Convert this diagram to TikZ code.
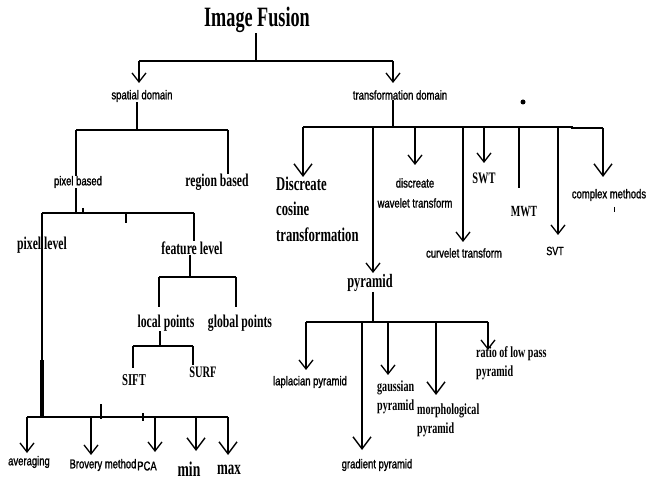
\documentclass[tikz,border=0pt]{standalone}
\usepackage{fontspec}
\setmainfont{Liberation Serif}
\newfontfamily\serc{Liberation Serif}[FakeStretch=0.65]
\newfontfamily\sanc{Liberation Sans}[FakeStretch=0.74,FakeBold=1.3]
\usetikzlibrary{arrows.meta}
\tikzset{
  ln/.style={line width=1.5pt},
  busln/.style={line width=2pt},
  arr/.style={line width=1.4pt,-{Straight Barb[length=9pt,width=14pt,line width=1.3pt]}},
  arrL/.style={line width=1.4pt,-{Straight Barb[length=12pt,width=18pt,line width=1.4pt]}},
  st/.style={inner sep=0pt,font=\sanc\fontsize{12.8}{14}\selectfont},
  sr/.style={inner sep=0pt,font=\serc\bfseries\fontsize{18}{20}\selectfont},
  srs/.style={inner sep=0pt,font=\serc\bfseries\fontsize{15.5}{19}\selectfont},
}
\begin{document}
\begin{tikzpicture}[x=1pt,y=-1pt]
\useasboundingbox[fill=white] (0,0) rectangle (646,481);
% ---- text nodes
\node[inner sep=0pt,font=\serc\bfseries\fontsize{28}{30}\selectfont] (title) at (257,20) {Image Fusion};
\node[st] (sd) at (142,96) {spatial domain};
\node[st] (td) at (400,95) {transformation domain};
\node[st] (pb) at (78,182) {pixel based};
\node[sr] (rb) at (217,182) {region based};
\node[sr] (pl) at (42,245) {pixel level};
\node[sr] (fl) at (192,248) {feature level};
\node[sr] (lp) at (166,323) {local points};
\node[sr] (gp) at (240,323) {global points};
\node[inner sep=0pt,font=\serc\bfseries\fontsize{16.5}{18}\selectfont] (sift) at (134,380) {SIFT};
\node[inner sep=0pt,font=\serc\bfseries\fontsize{16}{18}\selectfont] (surf) at (203,372) {SURF};
\node[st] (avg) at (29,462) {averaging};
\node[st] (bro) at (103,465) {Brovery method};
\node[st] (pca) at (147,466) {PCA};
\node[inner sep=0pt,font=\serc\bfseries\fontsize{21}{22}\selectfont] (min) at (189,469) {min};
\node[inner sep=0pt,font=\serc\bfseries\fontsize{20}{22}\selectfont] (max) at (229,470) {max};
\node[inner sep=0pt,anchor=west,align=left,font=\serc\bfseries\fontsize{19.5}{25.5}\selectfont] (dct) at (276,209) {Discreate\\cosine\\transformation};
\node[st,align=center,font=\sanc\fontsize{12.8}{20}\selectfont] (dwt) at (415,193) {discreate\\wavelet transform};
\node[st] (cvt) at (464,253) {curvelet transform};
\node[inner sep=0pt,font=\serc\bfseries\fontsize{16}{18}\selectfont] (swt) at (484,178) {SWT};
\node[inner sep=0pt,font=\serc\bfseries\fontsize{15.5}{18}\selectfont] (mwt) at (524,212) {MWT};
\node[st,font=\sanc\fontsize{12}{14}\selectfont] (svt) at (555,251) {SVT};
\node[st] (cm) at (609,195) {complex methods};
\node[inner sep=0pt,font=\serc\bfseries\fontsize{19}{20}\selectfont] (pyr) at (370,283) {pyramid};
\node[st] (lap) at (310,382) {laplacian pyramid};
\node[st] (grad) at (377,465) {gradient pyramid};
\node[srs,anchor=west,align=left] (gau) at (377,397) {gaussian\\pyramid};
\node[srs,anchor=west,align=left] (mor) at (417,420) {morphological\\pyramid};
\node[srs,anchor=west,align=left] (rat) at (476,363) {ratio of low pass\\pyramid};
% ---- coordinates
\coordinate (tb) at (256,61);
\coordinate (sbus) at (137,130);
\coordinate (pbus) at (76,213);
\coordinate (bbus) at (42,417);
\coordinate (fbus) at (190,277);
\coordinate (lbus) at (160,346);
\coordinate (tbus) at (393,127);
\coordinate (ybus) at (373,322);
% ---- top level
\draw[ln] (title.south -| tb) -- (tb);
\draw[busln] (139,61) -- (393,61);
\draw[arr] (139,61) -- (139,83);
\draw[arr] (393,61) -- (393,83);
% ---- spatial domain
\draw[ln] (sd.south -| sbus) -- (sbus);
\draw[busln] (76,130) -- (228,130);
\draw[ln] (76,130) -- (pb.north -| 76,0);
\draw[ln] (228,130) -- (228,174);
\draw[ln] (pb.south -| 76,0) -- (pbus);
\draw[busln] (42,213) -- (194,213);
\draw[ln] (83,208) -- (83,213);
\draw[ln] (126,213) -- (126,223);
\draw[ln] (194,213) -- (fl.north -| 194,0);
\draw[ln] (42,213) -- (bbus);
\draw[line width=4pt] (42,360) -- (42,418);
% feature level
\draw[ln] (fl.south -| fbus) -- (fbus);
\draw[busln] (159,277) -- (236,277);
\draw[ln] (159,277) -- (159,307);
\draw[ln] (236,277) -- (236,307);
\draw[ln] (lp.south -| lbus) -- (lbus);
\draw[busln] (133,346) -- (193,346);
\draw[ln] (133,346) -- (133,368);
\draw[ln] (193,346) -- (193,365);
% pixel level bus
\draw[busln] (27,417) -- (228,417);
\draw[ln] (101,404) -- (101,419);
\draw[ln] (143,413) -- (143,421);
\draw[arr] (27,417) -- (27,453);
\draw[arr] (91,417) -- (91,455);
\draw[arr] (155,417) -- (155,452);
\draw[arrL] (196,417) -- (196,451);
\draw[arrL] (228,417) -- (228,455);
% ---- transformation domain
\draw[ln] (td.south -| tbus) -- (tbus);
\draw[busln] (303,127) -- (572,127) -- (572,128) -- (603,128);
\draw[arrL] (303,127) -- (303,177);
\draw[ln] (373,127) -- (373,262);
\draw[arr] (373,250) -- (373,273);
\draw[arr] (415,127) -- (415,165);
\draw[arr] (463,127) -- (463,242);
\draw[arr] (484,127) -- (484,163);
\draw[ln] (519,127) -- (519,188);
\draw[arr] (558,127) -- (558,235);
\draw[arrL] (603,128) -- (603,177);
\fill (523,102) circle (2.5pt);
\draw[line width=1pt] (614,207) -- (614,212);
% pyramid
\draw[ln] (pyr.south -| ybus) -- (ybus);
\draw[busln] (306,322) -- (488,322);
\draw[arr] (306,322) -- (306,370);
\draw[arrL] (362,322) -- (362,450);
\draw[arr] (388,322) -- (388,375);
\draw[arrL] (436,322) -- (436,395);
\draw[arr] (488,322) -- (488,350);
\end{tikzpicture}
\end{document}
